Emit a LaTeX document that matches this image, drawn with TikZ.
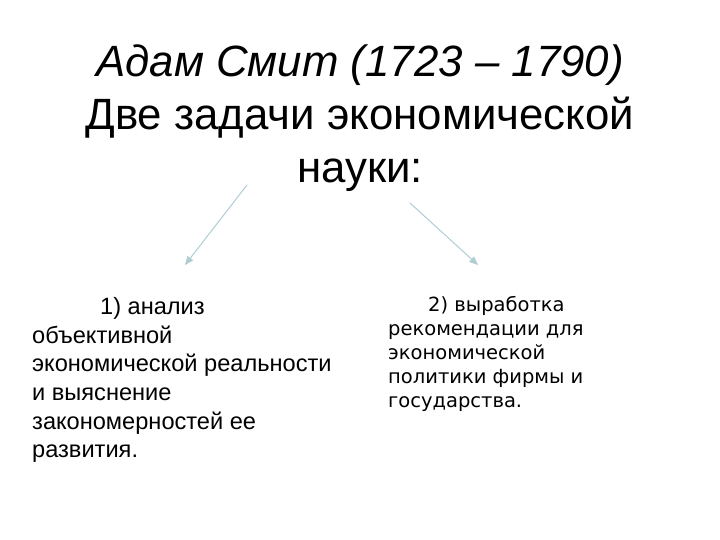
\documentclass[tikz,border=0pt]{standalone}
\usepackage{fontspec}
\setmainfont{Liberation Sans}
\newfontfamily\verdfont{DejaVu Sans}
\usepackage{tikz}
\usetikzlibrary{arrows}
\definecolor{arrcol}{RGB}{175,205,210}

\begin{document}
\begin{tikzpicture}[line cap=round,line join=round,>=triangle 45,x=1pt,y=-1pt]
\useasboundingbox (0,0) rectangle (720,540);
\node[anchor=north,inner sep=0pt,align=center,font=\fontsize{43.8}{53}\selectfont] (title) at (360,45) {\textit{Адам Смит (1723 – 1790)}\\Две задачи экономической\\науки:};
\node[anchor=north west,inner sep=0pt,align=left,font=\fontsize{23.6}{28.7}\selectfont] (task1) at (32,297) {\hspace*{68pt}1) анализ\\объективной\\экономической реальности\\и выяснение\\закономерностей ее\\развития.};
\node[anchor=north west,inner sep=0pt,align=left,font=\verdfont\fontsize{19.5}{24}\selectfont] (task2) at (388,296) {\hspace*{40pt}2) выработка\\рекомендации для\\экономической\\политики фирмы и\\государства.};
\coordinate (left top) at (247,185);
\coordinate (left end) at (185,265);
\coordinate (right top) at (410,203);
\coordinate (right end) at (478,265);
\draw[->,arrcol,line width=1pt] (left top)-- (left end);
\draw[->,arrcol,line width=1pt] (right top)-- (right end);
\end{tikzpicture}
\end{document}
